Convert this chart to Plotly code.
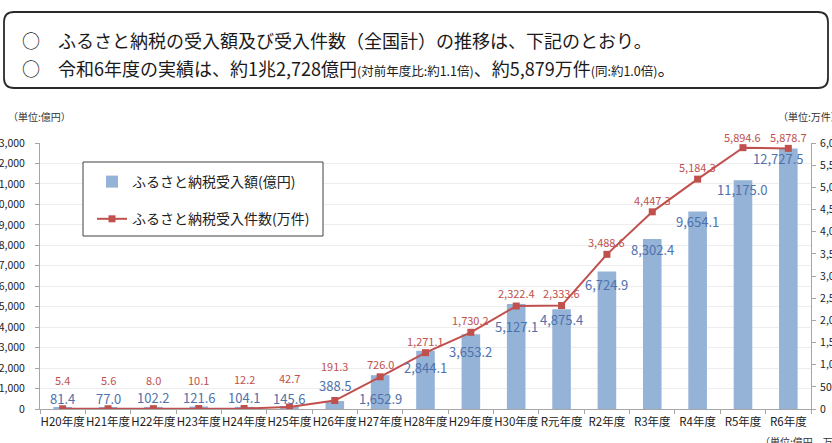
import plotly.graph_objects as go

# ---------------- data ----------------
categories = ["H20年度", "H21年度", "H22年度", "H23年度", "H24年度", "H25年度", "H26年度",
              "H27年度", "H28年度", "H29年度", "H30年度", "R元年度", "R2年度", "R3年度",
              "R4年度", "R5年度", "R6年度"]
amount_oku = [81.4, 77.0, 102.2, 121.6, 104.1, 145.6, 388.5, 1652.9, 2844.1, 3653.2,
              5127.1, 4875.4, 6724.9, 8302.4, 9654.1, 11175.0, 12727.5]
count_man = [5.4, 5.6, 8.0, 10.1, 12.2, 42.7, 191.3, 726.0, 1271.1, 1730.2,
             2322.4, 2333.6, 3488.6, 4447.3, 5184.3, 5894.6, 5878.7]
left_ticks = list(range(0, 13001, 1000))
right_ticks = list(range(0, 6001, 500))

# ---------------- styles ----------------
FONT = "Noto Sans CJK JP"
BAR_COLOR = "#95B3D7"
LINE_COLOR = "#C0504D"
BLUE_TXT = "#4F72AD"
RED_TXT = "#C0504D"
# label offsets (px) relative to bar top / marker
blue_shift = [9, 9, 9, 9, 9, 8, 16, -23, -17, -17, -22, -10, -13, -10, -10, -9, -10]
blue_xshift = [0] * 16 + [-10]
red_shift = [29, 29, 29, 29, 29, 29, 35, 13, 12, 12, 13, 13, 12, 12, 12, 11, 11]

# plot area in pixels
W, H = 832, 443
L, R, T, B = 40, 811, 143, 409


def px(x):
    return (x - L) / (R - L)


def py(y):
    return (B - y) / (B - T)


fig = go.Figure()
fig.add_trace(go.Bar(
    x=categories, y=amount_oku, name="ふるさと納税受入額(億円)",
    marker=dict(color=BAR_COLOR, line=dict(width=0)), legendgroup="a",
    hoverinfo="skip"))
fig.add_trace(go.Scatter(
    x=categories, y=count_man, name="ふるさと納税受入件数(万件)", yaxis="y2",
    mode="lines+markers", line=dict(color=LINE_COLOR, width=2),
    marker=dict(symbol="square", size=7, color=LINE_COLOR), legendgroup="b",
    hoverinfo="skip"))

annotations = []
for i, c in enumerate(categories):
    annotations.append(dict(
        x=c, y=amount_oku[i], xref="x", yref="y", text=f"{amount_oku[i]:,.1f}",
        showarrow=False, yshift=blue_shift[i], xshift=blue_xshift[i],
        font=dict(family=FONT, size=13, color=BLUE_TXT), yanchor="middle"))
    annotations.append(dict(
        x=c, y=count_man[i], xref="x", yref="y2", text=f"{count_man[i]:,.1f}",
        showarrow=False, yshift=red_shift[i],
        font=dict(family=FONT, size=11, color=RED_TXT), yanchor="middle"))

# header text
annotations.append(dict(
    x=px(20), y=py(40), xref="paper", yref="paper", xanchor="left", yanchor="middle",
    showarrow=False, text="○　ふるさと納税の受入額及び受入件数（全国計）の推移は、下記のとおり。",
    font=dict(family=FONT, size=18, color="#1a1a1a")))
annotations.append(dict(
    x=px(20), y=py(68), xref="paper", yref="paper", xanchor="left", yanchor="middle",
    showarrow=False,
    text=("○　令和6年度の実績は、約1兆2,728億円"
          "<span style='font-size:12.5px'>(対前年度比:約1.1倍)</span>"
          "、約5,879万件<span style='font-size:12.5px'>(同:約1.0倍)</span>。"),
    font=dict(family=FONT, size=18, color="#1a1a1a")))

# unit labels
annotations.append(dict(
    x=px(6), y=py(116), xref="paper", yref="paper", xanchor="left", yanchor="middle",
    showarrow=False, text="（単位:億円）", font=dict(family=FONT, size=10, color="#333")))
annotations.append(dict(
    x=px(776), y=py(116), xref="paper", yref="paper", xanchor="left", yanchor="middle",
    showarrow=False, text="（単位:万件）", font=dict(family=FONT, size=10, color="#333")))
annotations.append(dict(
    x=px(758), y=py(441), xref="paper", yref="paper", xanchor="left", yanchor="middle",
    showarrow=False, text="（単位:億円、万件）", font=dict(family=FONT, size=10, color="#333")))


def rounded_rect(x0, y0, x1, y1, r):
    X0, X1 = px(x0), px(x1)
    Y0, Y1 = py(y0), py(y1)
    rx = r / (R - L)
    ry = r / (B - T)
    return (f"M {X0+rx},{Y0} L {X1-rx},{Y0} Q {X1},{Y0} {X1},{Y0-ry} "
            f"L {X1},{Y1+ry} Q {X1},{Y1} {X1-rx},{Y1} "
            f"L {X0+rx},{Y1} Q {X0},{Y1} {X0},{Y1+ry} "
            f"L {X0},{Y0-ry} Q {X0},{Y0} {X0+rx},{Y0} Z")


shapes = [
    dict(type="path", xref="paper", yref="paper", path=rounded_rect(4, 12, 828, 88, 10),
         line=dict(color="#2a2a2a", width=1.8), fillcolor="rgba(0,0,0,0)"),
    dict(type="rect", xref="paper", yref="paper", x0=px(83), x1=px(323), y0=py(162), y1=py(236),
         line=dict(color="#404040", width=1), fillcolor="white", layer="above"),
]

fig.update_layout(
    width=W, height=H, autosize=False,
    margin=dict(l=L, r=W - R, t=T, b=H - B, pad=0, autoexpand=False),
    paper_bgcolor="white", plot_bgcolor="white",
    font=dict(family=FONT, size=12, color="#333"),
    bargap=0.59,
    showlegend=True,
    legend=dict(x=px(92), y=py(166), xanchor="left", yanchor="top",
                bgcolor="rgba(0,0,0,0)", borderwidth=0,
                font=dict(family=FONT, size=14, color="#222"),
                tracegroupgap=16, traceorder="grouped"),
    xaxis=dict(type="category", range=[-0.5, len(categories) - 0.5], autorange=False,
               showgrid=False, showline=True, linecolor="#A6A6A6",
               ticks="outside", tickson="boundaries", ticklen=4, tickcolor="#A6A6A6",
               tickangle=0, automargin=False, ticklabelstandoff=2,
               tickfont=dict(family=FONT, size=11.5, color="#222"), fixedrange=True),
    yaxis=dict(range=[0, 13000], autorange=False, tickvals=left_ticks, tickformat=",d",
               showgrid=True, gridcolor="#EDEDED", gridwidth=1, automargin=False,
               showline=True, linecolor="#A6A6A6", ticks="outside", ticklen=4,
               tickcolor="#A6A6A6", ticklabelstandoff=8, zeroline=False,
               tickfont=dict(family=FONT, size=10.5, color="#222")),
    yaxis2=dict(range=[0, 6000], autorange=False, tickvals=right_ticks, tickformat=",d",
                overlaying="y",
                side="right", showgrid=False, showline=True, linecolor="#A6A6A6",
                ticks="outside", ticklen=4, tickcolor="#A6A6A6", zeroline=False,
                ticklabelstandoff=2, automargin=False,
                tickfont=dict(family=FONT, size=10.5, color="#222")),
    annotations=annotations,
    shapes=shapes,
)

fig.write_html("out.html", config={"displayModeBar": False},
               post_script="document.body.style.margin='0';document.body.style.overflow='hidden';")
